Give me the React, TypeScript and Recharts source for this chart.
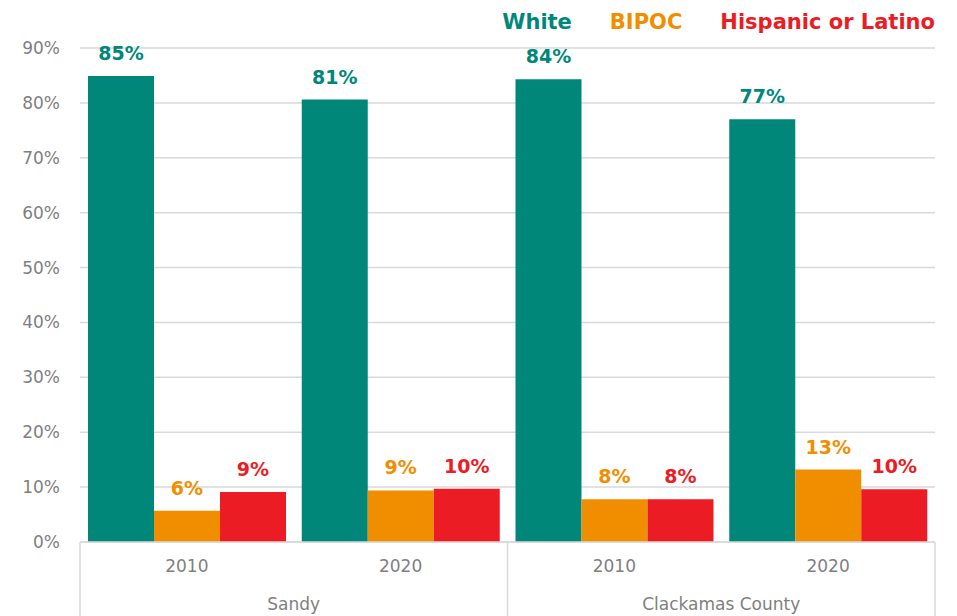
import { BarChart, Bar, XAxis, YAxis, CartesianGrid, Legend, LabelList } from 'recharts';

const years = ['2010', '2020', '2010', '2020'];
const regions = ['Sandy', 'Sandy', 'Clackamas County', 'Clackamas County'];
const white = [84.9, 80.6, 84.3, 77.0];
const bipoc = [5.7, 9.4, 7.8, 13.2];
const hispanic = [9.1, 9.7, 7.8, 9.6];
const yTicks = [0, 10, 20, 30, 40, 50, 60, 70, 80, 90];

const COLORS = {
  white: '#00877A',
  bipoc: '#F18E00',
  hispanic: '#EC1C24',
  text: '#7F7F7F',
  grid: '#D9D9D9',
};

const FONT = '"DejaVu Sans", sans-serif';
const BAND = 855 / 4;

const data = years.map((y, i) => ({
  year: y,
  region: regions[i],
  white: white[i],
  bipoc: bipoc[i],
  hispanic: hispanic[i],
}));

const series = [
  { key: 'white', name: 'White', color: COLORS.white },
  { key: 'bipoc', name: 'BIPOC', color: COLORS.bipoc },
  { key: 'hispanic', name: 'Hispanic or Latino', color: COLORS.hispanic },
];

const pct = (v: any) => `${Math.round(Number(v))}%`;

function RegionTick(props: any) {
  const { x, y, index, payload } = props;
  const left = x - BAND / 2;
  const right = x + BAND / 2;
  return (
    <g>
      {index % 2 === 0 && (
        <>
          <line x1={left} x2={left} y1={542} y2={616} stroke={COLORS.grid} strokeWidth={1.5} />
          <text
            x={right}
            y={y + 22}
            textAnchor="middle"
            fill={COLORS.text}
            fontSize={17}
            fontFamily={FONT}
          >
            {payload.value}
          </text>
        </>
      )}
      {index === years.length - 1 && (
        <line x1={right} x2={right} y1={542} y2={616} stroke={COLORS.grid} strokeWidth={1.5} />
      )}
    </g>
  );
}

function LegendContent() {
  return (
    <div
      style={{
        display: 'flex',
        gap: 38,
        fontFamily: FONT,
        fontWeight: 'bold',
        fontSize: 21,
        lineHeight: '24px',
        height: 24,
      }}
    >
      {series.map((s) => (
        <span key={s.key} style={{ color: s.color }}>
          {s.name}
        </span>
      ))}
    </div>
  );
}

export default function App() {
  return (
    <div style={{ position: 'absolute', left: 0, top: 0, background: '#fff' }}>
      <BarChart
        width={957}
        height={616}
        data={data}
        margin={{ top: 24, right: 22, left: 0, bottom: 0 }}
        barCategoryGap={8}
        barGap={0}
      >
        <CartesianGrid vertical={false} stroke={COLORS.grid} strokeWidth={1.5} />
        <YAxis
          domain={[0, 90]}
          ticks={yTicks}
          width={80}
          axisLine={false}
          tickLine={false}
          tickFormatter={pct}
          tick={{ fill: COLORS.text, fontSize: 17, fontFamily: FONT }}
          tickMargin={14}
        />
        <XAxis
          dataKey="year"
          height={38}
          tickLine={false}
          axisLine={{ stroke: COLORS.grid, strokeWidth: 1.5 }}
          tick={{ fill: COLORS.text, fontSize: 17, fontFamily: FONT }}
          tickMargin={12}
        />
        <XAxis
          xAxisId="region"
          dataKey="region"
          height={36}
          axisLine={false}
          tickLine={false}
          tick={<RegionTick />}
          interval={0}
        />
        <Legend
          verticalAlign="top"
          align="right"
          content={<LegendContent />}
          wrapperStyle={{ top: 10, right: 22, left: 'auto', width: 'auto' }}
        />
        {series.map((s) => (
          <Bar key={s.key} dataKey={s.key} name={s.name} fill={s.color} isAnimationActive={false}>
            <LabelList
              dataKey={s.key}
              position="top"
              formatter={pct}
              fill={s.color}
              fontSize={19}
              fontWeight="bold"
              fontFamily={FONT}
              offset={16}
            />
          </Bar>
        ))}
      </BarChart>
    </div>
  );
}
